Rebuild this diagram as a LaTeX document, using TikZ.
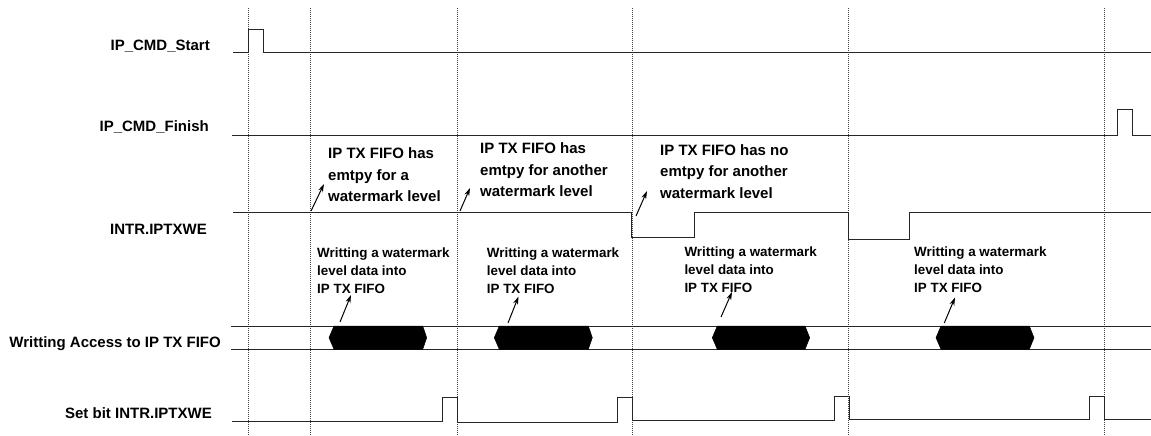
\documentclass[tikz,border=0pt]{standalone}
\usepackage{fontspec}
\setmainfont{Liberation Sans}
\usetikzlibrary{arrows.meta}
\begin{document}
\begin{tikzpicture}[x=1pt,y=-1pt,
  sig/.style={line width=1pt, black!85},
  guide/.style={line width=0.7pt, dash pattern=on 1pt off 1pt, black!75},
  lbl/.style={font=\fontsize{15}{17}\selectfont\bfseries, anchor=base east, inner sep=0},
  bignote/.style={font=\fontsize{15}{21.5}\selectfont\bfseries, anchor=base west, align=left, inner sep=0},
  smallnote/.style={font=\fontsize{13.4}{18}\selectfont\bfseries, anchor=base west, align=left, inner sep=0},
  pointer/.style={line width=1pt, -{Stealth[length=8pt,width=5pt]}},
  burst/.style={fill=black, draw=black, line width=0.5pt}]
\useasboundingbox (0,0) rectangle (1151,436);

% time guides
\foreach \x/\n in {248/g0,310/g1,457/g2,632.5/g3,848.5/g4,1104.5/g5} {
  \coordinate (\n t) at (\x,8);
  \coordinate (\n b) at (\x,436);
  \draw[guide] (\n t) -- (\n b);
}

% signal names
\node[lbl] (lstart)  at (210,50.5) {IP\_CMD\_Start};
\node[lbl] (lfinish) at (209,131.5) {IP\_CMD\_Finish};
\node[lbl] (lintr)   at (207,234) {INTR.IPTXWE};
\node[lbl] (lwr)     at (221,347) {Writting Access to IP TX FIFO};
\node[lbl] (lset)    at (212,418) {Set bit INTR.IPTXWE};

% waveforms
\draw[sig] (233,52.3) -- (248,52.3) -- (248,29.7) -- (263,29.7) -- (263,52.3) -- (1151,52.3);
\draw[sig] (232,135) -- (1117,135) -- (1117,109) -- (1132,109) -- (1132,135) -- (1151,135);
\draw[sig] (233,212.3) -- (631.5,212.3) -- (631.5,237) -- (694,237) -- (694,212.3) -- (848.5,212.3)
  -- (848.5,239) -- (909,239) -- (909,212.3) -- (1151,212.3);
\draw[sig] (231,326) -- (1151,326);
\draw[sig] (231,349.3) -- (1151,349.3);
\draw[sig] (232,421.5) -- (442,421.5) -- (442,397.5) -- (457,397.5) -- (457,422.5) -- (617,422.5)
  -- (617,397.5) -- (632,397.5) -- (632,420.5) -- (834,420.5) -- (834,396.5) -- (849,396.5)
  -- (849,419.5) -- (1089.5,419.5) -- (1089.5,396.5) -- (1104.5,396.5) -- (1104.5,419.5) -- (1151,419.5);

% data bursts
\foreach \a/\b/\c/\d in {329/334/422.7/426.7, 494.3/499.3/588.3/592.3, 712.3/717.3/805/809.7, 936/941/1029.3/1034}
  \fill[burst] (\a,337.7) -- (\b,326) -- (\c,326) -- (\d,337.7) -- (\c,349.3) -- (\b,349.3) -- cycle;

% annotations (anchor = baseline of last line)
\node[bignote] (n1) at (328,201.5) {IP TX FIFO has\\emtpy for a\\watermark level};
\node[bignote] (n2) at (480,196.5) {IP TX FIFO has\\emtpy for another\\watermark level};
\node[bignote] (n3) at (660,198) {IP TX FIFO has no\\emtpy for another\\watermark level};
\coordinate (t1) at (311,211); \coordinate (h1) at (324,184);
\coordinate (t2) at (460,211); \coordinate (h2) at (470,188);
\coordinate (t3) at (636,216); \coordinate (h3) at (647,191);
\draw[pointer] (t1) -- (h1);
\draw[pointer] (t2) -- (h2);
\draw[pointer] (t3) -- (h3);

\node[smallnote] (w1) at (317,293.5) {Writting a watermark\\level data into\\IP TX FIFO};
\node[smallnote] (w2) at (486.7,293) {Writting a watermark\\level data into\\IP TX FIFO};
\node[smallnote] (w3) at (684.3,292) {Writting a watermark\\level data into\\IP TX FIFO};
\node[smallnote] (w4) at (914,292) {Writting a watermark\\level data into\\IP TX FIFO};
\coordinate (s1) at (340,322);   \coordinate (e1) at (351,295);
\coordinate (s2) at (508,323);   \coordinate (e2) at (518.5,296.5);
\coordinate (s3) at (721,317);   \coordinate (e3) at (732,292);
\coordinate (s4) at (944.3,323); \coordinate (e4) at (955,297.5);
\draw[pointer] (s1) -- (e1);
\draw[pointer] (s2) -- (e2);
\draw[pointer] (s3) -- (e3);
\draw[pointer] (s4) -- (e4);
\end{tikzpicture}
\end{document}
